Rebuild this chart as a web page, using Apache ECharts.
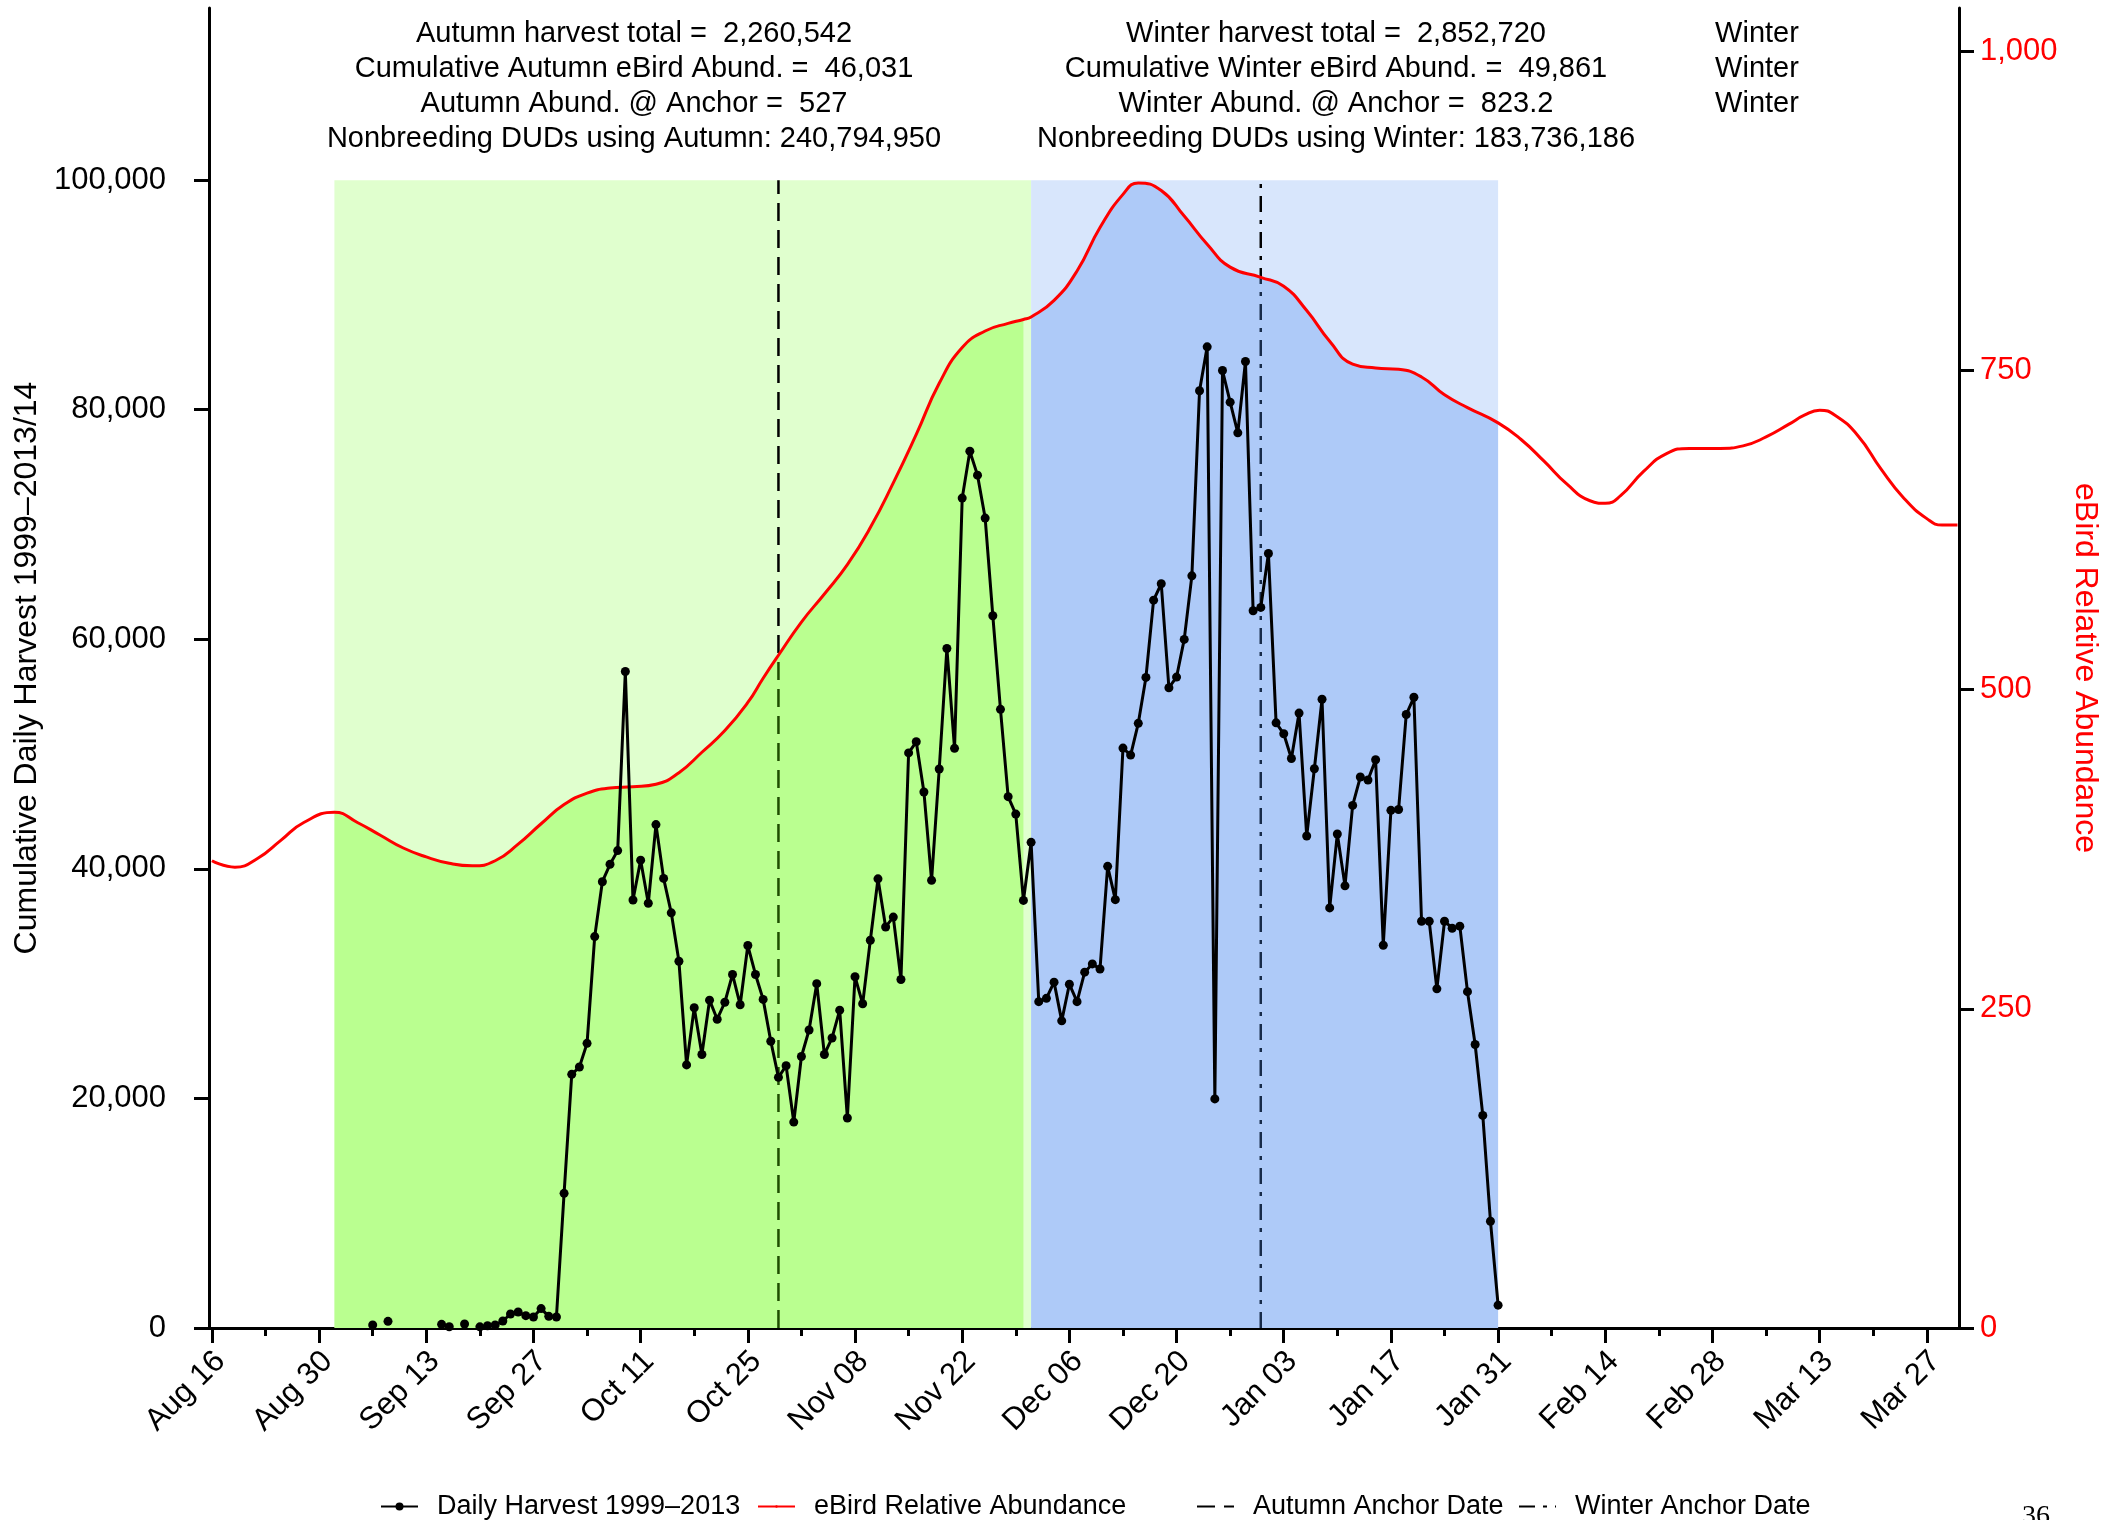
<!DOCTYPE html>
<html>
<head>
<meta charset="utf-8">
<script src="https://cdn.jsdelivr.net/npm/echarts@6.0.0/dist/echarts.min.js"></script>
<style>
html,body{margin:0;padding:0;background:#fff;}
#chart{width:2105px;height:1520px;}
</style>
</head>
<body>
<div id="chart"></div>
<script>
// ---------------- DATA ----------------
// x = days since Aug 16
const majorTickDays = [0,14,28,42,56,70,84,98,112,126,140,154,168,182,196,210,224];
const majorTickLabels = ["Aug 16","Aug 30","Sep 13","Sep 27","Oct 11","Oct 25","Nov 08","Nov 22","Dec 06","Dec 20","Jan 03","Jan 17","Jan 31","Feb 14","Feb 28","Mar 13","Mar 27"];
const minorTickDays = [7,21,35,49,63,77,91,105,119,133,147,161,175,189,203,217];
const yLeftTicks = [0,20000,40000,60000,80000,100000];
const yRightTicks = [0,250,500,750,1000];

// eBird relative abundance (right axis)
const abundDays = [0,3,6,9,12,16,19,22,25,28,31,34,37,40,43,46,49,52,55,58,61,64,67,70,72,74,77,80,83,86,89,92,95,98,101,104,106,107,110,113,116,119,121,124,127,130,133,137,140,143,146,149,152,155,158,161,164,168,171,174,177,180,182,184,187,190,193,197,200,203,206,208,210,212,215,218,221,224,226,228];
const abundValues = [366,361,368,382,396,404,396,386,376,369,364,362,366,379,395,410,419,423,424,426,435,451,468,490,509,527,553,575,598,627,662,700,740,768,781,787,790,792,805,828,862,888,897,891,871,849,831,823,816,797,773,755,752,751,745,731,721,709,696,679,661,648,646,652,671,685,689,689,691,698,708,715,719,715,699,673,650,634,629,629];

// Daily harvest (left axis), consecutive days starting at harvestStartDay, null = no data
const harvestStartDay = 21;
const harvestValues = [
 260,null,580,null,null,null,null,null,null,320,110,null,350,null,      // 21-34
 100,200,260,610,1220,1390,1075,960,1690,1015,960,                       // 35-45
 11730,22100,22740,24800,34100,38880,40400,41590,57200,37290,40760,37000,43860,39170,36170, // 46-60
 31950,22920,27900,23830,28560,26900,28380,30800,28160,33320,30800,28630,24980,21840,22850, // 61-75
 17940,23650,25960,30000,23830,25270,27690,18300,30600,28250,33780,39130,34940,35800,30360, // 76-90
 50100,51070,46700,39000,48700,59200,50500,72300,76390,74300,70560,62050,53900,46290,44770, // 91-105
 37250,42310,28430,28720,30130,26760,29950,28430,31000,31720,31280,40220,37320,50520,49910, // 106-120
 52680,56680,63410,64840,55780,56710,59990,65530,81650,85480,19960,83420,80660,77990,84200, // 121-135
 62490,62780,67480,52720,51770,49620,53570,42860,48720,54780,36600,43040,38520,45530,48000, // 136-150
 47740,49510,33350,45100,45170,53450,54950,35440,35440,29550,35440,34830,35010,29300,24700, // 151-165
 18520,9300,1990                                                          // 166-168
];

const autumnWindow = [16, 107];   // Sep 01 - Dec 01
const autumnAreaEnd = 106;
const winterWindow = [107, 168];  // Dec 01 - Jan 31
const autumnAnchorDay = 74;       // Oct 29
const winterAnchorDay = 137;      // Dec 31
const anchorTop = 100000;

const autumnText = ["Autumn harvest total =  2,260,542","Cumulative Autumn eBird Abund. =  46,031","Autumn Abund. @ Anchor =  527","Nonbreeding DUDs using Autumn: 240,794,950"];
const winterText = ["Winter harvest total =  2,852,720","Cumulative Winter eBird Abund. =  49,861","Winter Abund. @ Anchor =  823.2","Nonbreeding DUDs using Winter: 183,736,186"];
const winterTag = ["Winter","Winter","Winter"];

const yLeftName = "Cumulative Daily Harvest 1999\u20132013/14";
const yRightName = "eBird Relative Abundance";
const nHarvest = "Daily Harvest 1999\u20132013";
const nAbund = "eBird Relative Abundance";
const nAutumn = "Autumn Anchor Date";
const nWinter = "Winter Anchor Date";

// ---------------- BUILD ----------------
const FONT = '"Liberation Sans", Arial, Helvetica, sans-serif';
const fmt = v => Number(v).toLocaleString('en-US');
const abundData = abundDays.map((d,i)=>[d, abundValues[i]]);
const harvestData = harvestValues.map((v,i)=>[harvestStartDay+i, v===null?'-':v]);
const autumnArea = abundData.filter(p=>p[0]>=autumnWindow[0] && p[0]<=autumnAreaEnd);
const winterArea = abundData.filter(p=>p[0]>=winterWindow[0] && p[0]<=winterWindow[1]);

const XMIN = -0.38, XMAX = 228.2;

const chart = echarts.init(document.getElementById('chart'), null, {renderer:'canvas'});

const legendCommon = {
  orient:'horizontal', top:1493, padding:0, itemGap:0, selectedMode:false,
  itemWidth:37,
  textStyle:{fontSize:27, color:'#000', fontFamily:FONT, padding:[0,0,0,14]}
};

const graphics = [];
const TY = 34, DY = 34.9;
autumnText.forEach((t,i)=>graphics.push({type:'text', x:634, y:TY+i*DY, style:{text:t, align:'center', verticalAlign:'middle', font:'29px ' + FONT, fill:'#000'}}));
winterText.forEach((t,i)=>graphics.push({type:'text', x:1336, y:TY+i*DY, style:{text:t, align:'center', verticalAlign:'middle', font:'29px ' + FONT, fill:'#000'}}));
winterTag.forEach((t,i)=>graphics.push({type:'text', x:1757, y:TY+i*DY, style:{text:t, align:'center', verticalAlign:'middle', font:'29px ' + FONT, fill:'#000'}}));
graphics.push({type:'text', x:2022, y:1503, style:{text:'36', align:'left', verticalAlign:'top', font:'28px "Liberation Serif", "Times New Roman", serif', fill:'#000'}});

const option = {
  animation:false,
  backgroundColor:'#fff',
  textStyle:{fontFamily:FONT},
  grid:{left:209, right:146, top:8, bottom:192, containLabel:false, outerBoundsMode:'none'},
  xAxis:[
    {type:'value', min:XMIN, max:XMAX, position:'bottom',
     axisLine:{show:true, onZero:false, lineStyle:{color:'#000', width:3}},
     axisTick:{show:true, inside:false, length:15, lineStyle:{color:'#000', width:3}, customValues:majorTickDays},
     axisLabel:{customValues:majorTickDays, rotate:45, margin:20, fontSize:31, color:'#000', fontFamily:FONT,
       verticalAlign:'top', lineHeight:24,
       formatter:v=>{const i=majorTickDays.indexOf(Math.round(v)); return i>=0?majorTickLabels[i]:'';}},
     splitLine:{show:false}},
    {type:'value', min:XMIN, max:XMAX, position:'bottom',
     axisLine:{show:false, onZero:false},
     axisTick:{show:true, inside:false, length:8, lineStyle:{color:'#000', width:3}, customValues:minorTickDays},
     axisLabel:{show:false}, splitLine:{show:false}}
  ],
  yAxis:[
    {type:'value', min:0, max:115000, position:'left',
     name:yLeftName, nameLocation:'middle', nameGap:166, nameRotate:90,
     nameTextStyle:{fontSize:32, color:'#000', fontFamily:FONT},
     axisLine:{show:true, onZero:false, lineStyle:{color:'#000', width:3}},
     axisTick:{show:true, length:15, lineStyle:{color:'#000', width:3}, customValues:yLeftTicks},
     axisLabel:{customValues:yLeftTicks, margin:43, fontSize:31, color:'#000', fontFamily:FONT, formatter:v=>fmt(v)},
     splitLine:{show:false}},
    {type:'value', min:0, max:1034, position:'right',
     name:yRightName, nameLocation:'middle', nameGap:92, nameRotate:-90,
     nameTextStyle:{fontSize:32, color:'#ff0000', fontFamily:FONT},
     axisLine:{show:true, onZero:false, lineStyle:{color:'#000', width:3}},
     axisTick:{show:true, length:15, lineStyle:{color:'#000', width:3}, customValues:yRightTicks},
     axisLabel:{customValues:yRightTicks, margin:21, fontSize:31, color:'#ff0000', fontFamily:FONT, formatter:v=>fmt(v)},
     splitLine:{show:false}}
  ],
  legend:[
    Object.assign({}, legendCommon, {data:[nHarvest], left:380, itemHeight:10}),
    Object.assign({}, legendCommon, {data:[nAbund], left:757, itemHeight:3}),
    Object.assign({}, legendCommon, {data:[nAutumn], left:1196, itemHeight:3, itemStyle:{color:'rgba(0,0,0,0)', borderWidth:0}}),
    Object.assign({}, legendCommon, {data:[nWinter], left:1518, itemHeight:3, itemStyle:{color:'rgba(0,0,0,0)', borderWidth:0}})
  ],
  graphic:graphics,
  series:[
    {type:'line', name:'_windows', xAxisIndex:0, yAxisIndex:0, data:[[autumnWindow[0],0]], symbol:'none',
     lineStyle:{opacity:0}, silent:true, z:1,
     markArea:{silent:true, z:1, data:[
       [{xAxis:autumnWindow[0], yAxis:0, itemStyle:{color:'#E0FFCE', opacity:1}}, {xAxis:autumnWindow[1], yAxis:anchorTop}],
       [{xAxis:winterWindow[0], yAxis:0, itemStyle:{color:'#D8E6FC', opacity:1}}, {xAxis:winterWindow[1], yAxis:anchorTop}]
     ]}},
    {type:'line', name:nAutumn, xAxisIndex:0, yAxisIndex:0, data:[[autumnAnchorDay,0],[autumnAnchorDay,anchorTop]],
     symbol:'none', lineStyle:{color:'#000', width:2.5, type:[18,9]}, itemStyle:{color:'#000'}, z:2, silent:true},
    {type:'line', name:nWinter, xAxisIndex:0, yAxisIndex:0, data:[[winterAnchorDay,0],[winterAnchorDay,anchorTop]],
     symbol:'none', lineStyle:{color:'#000', width:2.5, type:[16,8,4,8]}, itemStyle:{color:'#000'}, z:2, silent:true},
    {type:'line', name:'_autumnArea', xAxisIndex:0, yAxisIndex:1, data:autumnArea, smooth:0.5, symbol:'none',
     lineStyle:{width:0}, areaStyle:{color:'rgba(100,255,0,0.3)', opacity:1}, z:3, silent:true},
    {type:'line', name:'_winterArea', xAxisIndex:0, yAxisIndex:1, data:winterArea, smooth:0.5, symbol:'none',
     lineStyle:{width:0}, areaStyle:{color:'rgba(75,140,239,0.3)', opacity:1}, z:3, silent:true},
    {type:'line', name:nAbund, xAxisIndex:0, yAxisIndex:1, data:abundData, smooth:0.5, symbol:'none',
     lineStyle:{color:'#ff0000', width:3}, itemStyle:{color:'#ff0000'}, z:4, silent:true},
    {type:'line', name:nHarvest, xAxisIndex:0, yAxisIndex:0, data:harvestData, connectNulls:false,
     symbol:'circle', symbolSize:9, showSymbol:true, showAllSymbol:true,
     lineStyle:{color:'#000', width:3}, itemStyle:{color:'#000', borderWidth:0}, z:5, silent:true}
  ]
};
chart.setOption(option);
</script>
</body>
</html>
